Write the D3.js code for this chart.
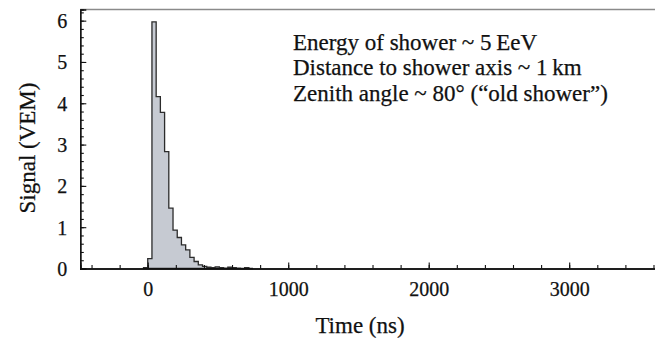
<!DOCTYPE html>
<html>
<head>
<meta charset="utf-8">
<script src="https://cdn.jsdelivr.net/npm/d3@7"></script>
<style>
  body { margin: 0; background: #fff; }
  text { font-family: "Liberation Serif", "DejaVu Serif", serif; fill: #111; stroke: #111; stroke-width: 0.25px; }
</style>
</head>
<body>
<div id="chart"></div>
<script>
// bin start times (ns) and signal per bin (VEM)
const binTimes = [-30, 0, 30, 60, 90, 120, 150, 180, 210, 240, 270, 300, 330, 360, 390,
  420, 450, 480, 510, 540, 570, 600, 630, 660, 690, 720]
const signal = [0.02, 0.24, 5.97, 4.16, 3.78, 2.83, 1.46, 0.93, 0.75, 0.57, 0.45, 0.27, 0.17, 0.09, 0.05,
  0.03, 0.02, 0.04, 0.02, 0.01, 0.03, 0.02, 0.01, 0.0, 0.02, 0.0]
const binEnd = 750

const xTicks = [0, 1000, 2000, 3000]
const yTicks = [0, 1, 2, 3, 4, 5, 6]
const notes = [
  "Energy of shower ~ 5\u2009EeV",
  "Distance to shower axis ~ 1\u2009km",
  "Zenith angle ~ 80\u00b0 (\u201cold shower\u201d)"
]

const width = 655
const height = 339

const svg = d3.select("#chart")
  .append("svg")
  .attr("width", width)
  .attr("height", height)

const x = d3.scaleLinear().domain([-480, 3620]).range([80.3, 656.3])
const y = d3.scaleLinear().domain([0, 6.27]).range([268.5, 9.5])

//histogram points, last one closes the step
const pts = binTimes.map((t, i) => [t, signal[i]])
pts.push([binEnd, 0])

const area = d3.area()
  .curve(d3.curveStepAfter)
  .x(d => x(d[0]))
  .y0(y(0))
  .y1(d => y(d[1]))

svg.append("path")
  .datum(pts)
  .attr("d", area)
  .attr("fill", "#c6cad2")
  .attr("stroke", "#2b2b2b")
  .attr("stroke-width", 1.3)
  .attr("stroke-linejoin", "miter")

//top frame line
svg.append("line")
  .attr("x1", x.range()[0]).attr("x2", width)
  .attr("y1", y.range()[1]).attr("y2", y.range()[1])
  .attr("stroke", "#8a8a8a")
  .attr("stroke-width", 1.5)

// x axis, ticks pointing up into the plot
const xMinor = d3.range(-400, 3601, 200)
const xAxis = svg.append("g").attr("transform", "translate(0," + y(0) + ")")
xAxis.call(d3.axisBottom(x).tickValues(xMinor).tickSize(-3.5).tickFormat(""))
xAxis.append("g").call(d3.axisBottom(x).tickValues(xTicks).tickSize(-6).tickFormat(d3.format("d")))
xAxis.selectAll(".domain").attr("stroke", "#111").attr("stroke-width", 1.3)
xAxis.selectAll("line").attr("stroke", "#111").attr("stroke-width", 1.1)
xAxis.selectAll("text")
  .attr("y", 27)
  .attr("dy", 0)
  .style("font-size", "20px")
  .style("font-family", "Liberation Serif")
  .attr("fill", "#111")

// y axis, ticks pointing right
const yMinor = d3.range(0, 6.21, 0.2)
const yAxis = svg.append("g").attr("transform", "translate(" + x.range()[0] + ",0)")
yAxis.call(d3.axisLeft(y).tickValues(yMinor).tickSize(-3.5).tickFormat(""))
yAxis.append("g").call(d3.axisLeft(y).tickValues(yTicks).tickSize(-6).tickFormat(d3.format("d")))
yAxis.selectAll(".domain").attr("stroke", "#111").attr("stroke-width", 1.3)
yAxis.selectAll("line").attr("stroke", "#111").attr("stroke-width", 1.1)
yAxis.selectAll("text")
  .attr("x", -13)
  .attr("dy", "0.35em")
  .style("font-size", "20px")
  .style("font-family", "Liberation Serif")
  .attr("fill", "#111")

//axis titles
svg.append("text")
  .attr("x", 360)
  .attr("y", 333)
  .attr("text-anchor", "middle")
  .style("font-size", "23px")
  .text("Time (ns)")

svg.append("text")
  .attr("transform", "translate(35,148) rotate(-90)")
  .attr("text-anchor", "middle")
  .style("font-size", "23px")
  .text("Signal (VEM)")

//annotation
svg.selectAll(".note")
  .data(notes)
  .enter()
  .append("text")
  .attr("class", "note")
  .attr("x", 293)
  .attr("y", (d, i) => 50 + i * 25.3)
  .style("font-size", "23px")
  .text(d => d)
</script>
</body>
</html>
